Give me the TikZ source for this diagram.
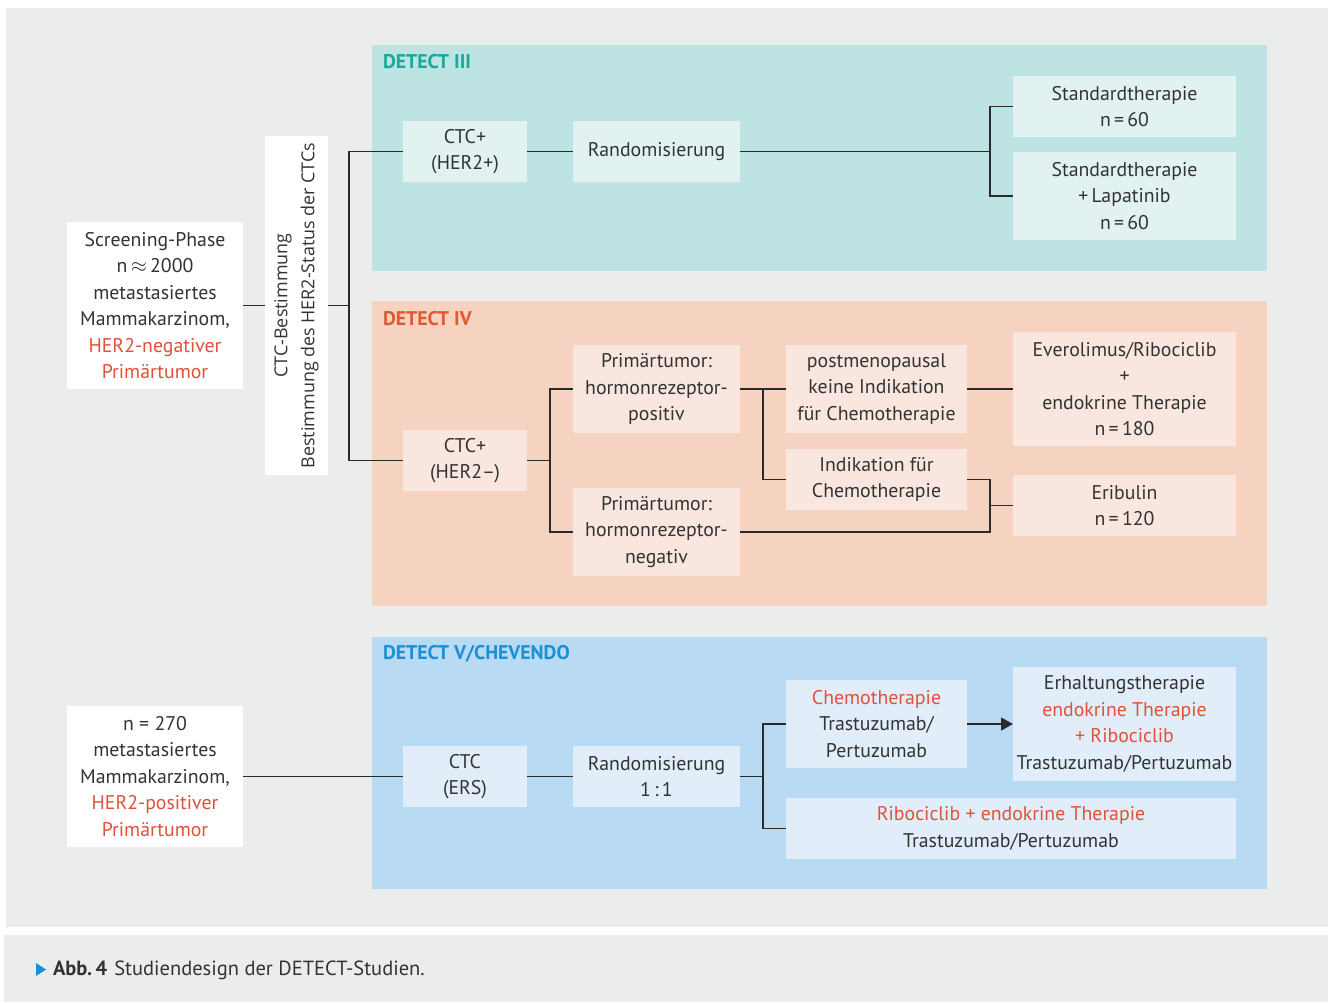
\documentclass[tikz,border=0pt]{standalone}
\usepackage{fontspec}
\setmainfont{PT Sans}
\newfontfamily\rotfont{Open Sans}
\usetikzlibrary{arrows.meta,calc}
\definecolor{bggray}{HTML}{EBEDED}
\definecolor{tealpanel}{HTML}{BDE3E2}
\definecolor{tealbox}{HTML}{E1F2F1}
\definecolor{peachpanel}{HTML}{F5D3C0}
\definecolor{peachbox}{HTML}{F9E6DE}
\definecolor{bluepanel}{HTML}{B8DAF2}
\definecolor{bluebox}{HTML}{E1EEF9}
\definecolor{tealtitle}{HTML}{19A89A}
\definecolor{orangetitle}{HTML}{E05A30}
\definecolor{bluetitle}{HTML}{1C8FD6}
\definecolor{redtext}{HTML}{E0513A}
\definecolor{darktext}{HTML}{333333}
\definecolor{linecol}{HTML}{2A2A2A}
\newcommand{\rt}[1]{\textcolor{redtext}{#1}}
\begin{document}
\begin{tikzpicture}[x=1pt,y=-1pt,
  every node/.style={inner sep=0pt, outer sep=0pt, text=darktext},
  basebox/.style={align=center, font=\fontsize{19.8}{26.5}\selectfont, anchor=center},
  whitebox/.style={basebox, fill=white},
  tbox/.style={basebox, fill=tealbox},
  pbox/.style={basebox, fill=peachbox},
  bbox/.style={basebox, fill=bluebox},
  ptitle/.style={anchor=west, font=\fontsize{19.8}{22}\selectfont\bfseries},
  conn/.style={draw=linecol, line width=1.3pt},
]
\useasboundingbox (0,0) rectangle (1333,1002);
% backgrounds
\fill[white] (0,0) rectangle (1333,1002);
\fill[bggray] (6,8) rectangle (1328,927);
\fill[bggray] (4,935) rectangle (1328,1002);
% panels
\fill[tealpanel] (372,45) rectangle (1267,271);
\fill[peachpanel] (372,301) rectangle (1267,606);
\fill[bluepanel] (372,637) rectangle (1267,889);
\node[ptitle, text=tealtitle] (t3) at (383,62) {DETECT III};
\node[ptitle, text=orangetitle] (t4) at (383,319) {DETECT IV};
\node[ptitle, text=bluetitle] (t5) at (383,654) {DETECT V/CHEVENDO};

% left boxes
\node[whitebox, minimum width=176, minimum height=167] (scr) at (155,305.5)
  {Screening-Phase\\ n\,\ensuremath{\approx}\,2000\\ metastasiertes\\ Mammakarzinom,\\ \rt{HER2-negativer}\\ \rt{Primärtumor}};
\node[whitebox, minimum width=63, minimum height=339] (vert) at (296.5,305.5) {};
\node[rotate=90, font=\rotfont\fontsize{17.9}{27}\selectfont, align=center] (vtxt) at (296.5,305.5)
  {CTC-Bestimmung\\ Bestimmung des HER2-Status der CTCs};

% DETECT III
\node[tbox, minimum width=124, minimum height=61] (ctc3) at (465,151.5) {CTC+\\ (HER2+)};
\node[tbox, minimum width=167, minimum height=61] (rand3) at (656.5,151.5) {Randomisierung};
\node[tbox, minimum width=223, minimum height=61] (std1) at (1124.5,106.5) {Standardtherapie\\ n\,=\,60};
\node[tbox, minimum width=223, minimum height=88] (std2) at (1124.5,196) {Standardtherapie\\ +\,Lapatinib\\ n\,=\,60};

% DETECT IV
\node[pbox, minimum width=124, minimum height=61] (ctc4) at (465,460.5) {CTC+\\ (HER2\textendash)};
\node[pbox, minimum width=167, minimum height=88] (ppos) at (656.5,389) {Primärtumor:\\ hormonrezeptor-\\ positiv};
\node[pbox, minimum width=167, minimum height=88] (pneg) at (656.5,532) {Primärtumor:\\ hormonrezeptor-\\ negativ};
\node[pbox, minimum width=181, minimum height=88] (post) at (876.5,389) {postmenopausal\\ keine Indikation\\ für Chemotherapie};
\node[pbox, minimum width=181, minimum height=61] (ind) at (876.5,479.5) {Indikation für\\ Chemotherapie};
\node[pbox, minimum width=223, minimum height=114] (evero) at (1124.5,389) {Everolimus/Ribociclib\\ +\\ endokrine Therapie\\ n\,=\,180};
\node[pbox, minimum width=223, minimum height=61] (erib) at (1124.5,505.5) {Eribulin\\ n\,=\,120};

% DETECT V
\node[whitebox, minimum width=176, minimum height=141] (n270) at (155,776.5)
  {n = 270\\ metastasiertes\\ Mammakarzinom,\\ \rt{HER2-positiver}\\ \rt{Primärtumor}};
\node[bbox, minimum width=124, minimum height=61] (ctc5) at (465,776.5) {CTC\\ (ERS)};
\node[bbox, minimum width=167, minimum height=61] (rand5) at (656.5,776.5) {Randomisierung\\ 1\,:\,1};
\node[bbox, minimum width=181, minimum height=88] (chemo) at (876.5,724) {\rt{Chemotherapie}\\ Trastuzumab/\\ Pertuzumab};
\node[bbox, minimum width=223, minimum height=114] (erh) at (1124.5,724) {Erhaltungstherapie\\ \rt{endokrine Therapie}\\ \rt{+ Ribociclib}\\ Trastuzumab/Pertuzumab};
\node[bbox, minimum width=450, minimum height=61] (ribo) at (1011,828.5) {\rt{Ribociclib + endokrine Therapie}\\ Trastuzumab/Pertuzumab};

% junction coordinates
\coordinate (j1) at (349,305.5);
\coordinate (j2) at (990,151.5);
\coordinate (j3) at (550,460.5);
\coordinate (j4) at (763,389);
\coordinate (j5) at (990,505.5);
\coordinate (j6) at (763,776.5);

% connectors
\draw[conn] (scr.east |- j1) -- (vert.west |- j1);
\draw[conn] (vert.east |- j1) -- (j1);
\draw[conn] (ctc3.west) -| (j1) |- (ctc4.west);
\draw[conn] (ctc3.east) -- (rand3.west);
\draw[conn] (rand3.east) -- (j2);
\draw[conn] (std1.west) -| (j2) |- (std2.west);

\draw[conn] (ctc4.east) -- (j3);
\draw[conn] (ppos.west) -| (j3) |- (pneg.west);
\draw[conn] (ppos.east) -- (post.west);
\draw[conn] (j4) |- (ind.west);
\draw[conn] (post.east) -- (evero.west);
\draw[conn] (ind.east) -| (j5);
\draw[conn] (pneg.east) -| (j5);
\draw[conn] (j5) -- (erib.west);

\draw[conn] (n270.east) -- (ctc5.west);
\draw[conn] (ctc5.east) -- (rand5.west);
\draw[conn] (rand5.east) -- (j6);
\draw[conn] (chemo.west) -| (j6) |- (ribo.west);
\draw[conn, -{Triangle[length=12pt,width=13pt]}] (chemo.east) -- (erh.west);

% caption
\fill[bluetitle] (36,963) -- (46,969.5) -- (36,976) -- cycle;
\node[anchor=west, font=\fontsize{20.5}{22}\selectfont] (cap) at (53,970)
  {\textbf{Abb.\,4}\hspace{7pt}Studiendesign der DETECT-Studien.};
\end{tikzpicture}
\end{document}
